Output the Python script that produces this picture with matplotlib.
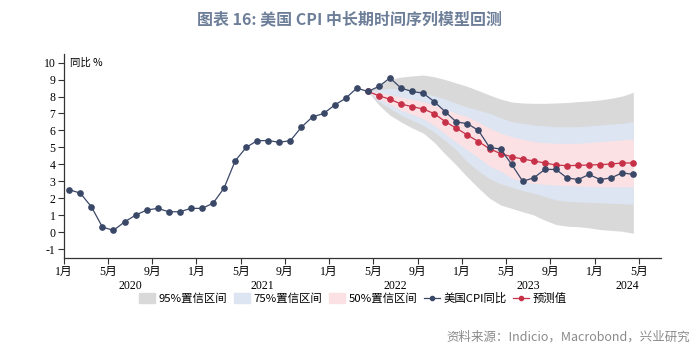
import numpy as np
import matplotlib
matplotlib.use('Agg')
import matplotlib.pyplot as plt
from matplotlib.patches import Patch
from matplotlib.lines import Line2D

plt.rcParams['font.family'] = ['Noto Sans CJK SC', 'DejaVu Sans']
plt.rcParams['axes.unicode_minus'] = False

# 美国CPI同比, 2020-01 .. 2024-04
cpi = [2.5, 2.3, 1.5, 0.3, 0.1, 0.6, 1.0, 1.3, 1.4, 1.2, 1.2, 1.4,
       1.4, 1.7, 2.6, 4.2, 5.0, 5.4, 5.4, 5.3, 5.4, 6.2, 6.8, 7.0,
       7.5, 7.9, 8.5, 8.3, 8.6, 9.1, 8.5, 8.3, 8.2, 7.7, 7.1, 6.5,
       6.4, 6.0, 5.0, 4.9, 4.0, 3.0, 3.2, 3.7, 3.7, 3.2, 3.1, 3.4,
       3.1, 3.2, 3.5, 3.4]

# 预测值 and bands, 2022-04 .. 2024-04
fc_start = 27
forecast = [8.3, 8.05, 7.84, 7.56, 7.40, 7.27, 6.99, 6.52, 6.13, 5.73, 5.34, 4.92, 4.63,
            4.45, 4.31, 4.20, 4.08, 3.96, 3.92, 3.94, 3.96, 3.98, 4.02, 4.08, 4.08]
up95 = [8.3, 8.68, 9.02, 9.15, 9.22, 9.27, 9.17, 9.0, 8.8, 8.6, 8.35, 8.09, 7.85,
        7.68, 7.62, 7.60, 7.60, 7.62, 7.65, 7.70, 7.74, 7.80, 7.90, 8.03, 8.25]
lo95 = [8.3, 7.5, 6.9, 6.5, 6.15, 5.85, 5.3, 4.6, 3.95, 3.25, 2.6, 2.0, 1.6,
        1.4, 1.2, 1.01, 0.7, 0.45, 0.35, 0.32, 0.25, 0.15, 0.1, 0.05, -0.07]
up75 = [8.3, 8.42, 8.49, 8.45, 8.33, 8.19, 8.05, 7.85, 7.60, 7.38, 7.2, 7.01, 6.75,
        6.52, 6.42, 6.32, 6.27, 6.22, 6.22, 6.22, 6.27, 6.32, 6.37, 6.42, 6.52]
lo75 = [8.3, 7.7, 7.3, 6.9, 6.6, 6.3, 5.9, 5.4, 4.85, 4.15, 3.6, 3.15, 2.85,
        2.65, 2.45, 2.29, 2.1, 1.9, 1.82, 1.78, 1.76, 1.74, 1.70, 1.68, 1.64]
up50 = [8.3, 8.25, 8.1, 7.96, 7.84, 7.70, 7.50, 7.25, 7.0, 6.81, 6.5, 6.13, 5.85,
        5.63, 5.48, 5.34, 5.28, 5.24, 5.24, 5.24, 5.29, 5.34, 5.39, 5.44, 5.48]
lo50 = [8.3, 7.85, 7.55, 7.2, 6.95, 6.7, 6.3, 5.8, 5.3, 4.85, 4.4, 3.9, 3.6,
        3.2, 3.0, 2.88, 2.82, 2.78, 2.75, 2.72, 2.70, 2.68, 2.68, 2.68, 2.68]

years = ['2020', '2021', '2022', '2023', '2024']
month_labels = ['1月', '5月', '9月']

c_gray = '#d9d9d9'
c_blue = '#dce5f1'
c_pink = '#fce1e4'
c_navy = '#3a4868'
c_red = '#c73148'

fig = plt.figure(figsize=(6.99, 3.58), dpi=100)
ax = fig.add_axes([0.0911, 0.2807, 0.8545, 0.5679])

x = np.arange(len(cpi)) + 0.5
xf = np.arange(len(forecast)) + fc_start + 0.5

ax.fill_between(xf, lo95, up95, color=c_gray, lw=0)
ax.fill_between(xf, lo75, up75, color=c_blue, lw=0)
ax.fill_between(xf, lo50, up50, color=c_pink, lw=0)
ax.plot(x, cpi, color=c_navy, lw=0.9, marker='o', ms=3.8, zorder=4)
ax.plot(xf, forecast, color=c_red, lw=0.9, marker='o', ms=3.8, zorder=3)

ax.set_xlim(0, 54)
ax.set_ylim(-1.5, 10.5)
for s in ['top', 'right']:
    ax.spines[s].set_visible(False)
for s in ['left', 'bottom']:
    ax.spines[s].set_color('#333333')
    ax.spines[s].set_linewidth(0.9)

ax.set_yticks(range(-1, 11))
ax.set_yticklabels([str(v) for v in range(-1, 11)], family=['Liberation Serif'], fontsize=8.5)
xt = list(range(0, 53, 4))
ax.set_xticks(xt)
ax.set_xticklabels([month_labels[(t // 4) % 3] for t in xt],
                   family=['Liberation Serif', 'Noto Sans CJK SC'], fontsize=8.5)
ax.tick_params(axis='both', direction='out', length=4, width=0.8, color='#333333', pad=2)

year_pos = [6, 18, 30, 42, 51]
for yp, yl in zip(year_pos, years):
    ax.text(yp, -0.11, yl, transform=ax.get_xaxis_transform(), ha='center', va='top',
            family=['Liberation Serif'], fontsize=8.5)

ax.text(0.01, 0.985, '同比 %', transform=ax.transAxes, ha='left', va='top', fontsize=7.5)

fig.text(0.5, 0.945, '图表 16: 美国 CPI 中长期时间序列模型回测', ha='center', va='center',
         fontsize=11.5, fontweight='bold', color='#6d7e98')
fig.text(0.987, 0.058, '资料来源：Indicio，Macrobond，兴业研究', ha='right', va='center',
         fontsize=9, color='#8a8a8a')

handles = [Patch(color=c_gray), Patch(color=c_blue), Patch(color=c_pink),
           Line2D([], [], color=c_navy, lw=0.9, marker='o', ms=3),
           Line2D([], [], color=c_red, lw=0.9, marker='o', ms=3)]
labels = ['95%置信区间', '75%置信区间', '50%置信区间', '美国CPI同比', '预测值']
fig.legend(handles, labels, loc='center', bbox_to_anchor=(0.505, 0.167), ncol=5,
           frameon=False, fontsize=8.2, handlelength=1.4, handleheight=0.9,
           handletextpad=0.3, columnspacing=0.6)

fig.savefig('out.png', dpi=100)
